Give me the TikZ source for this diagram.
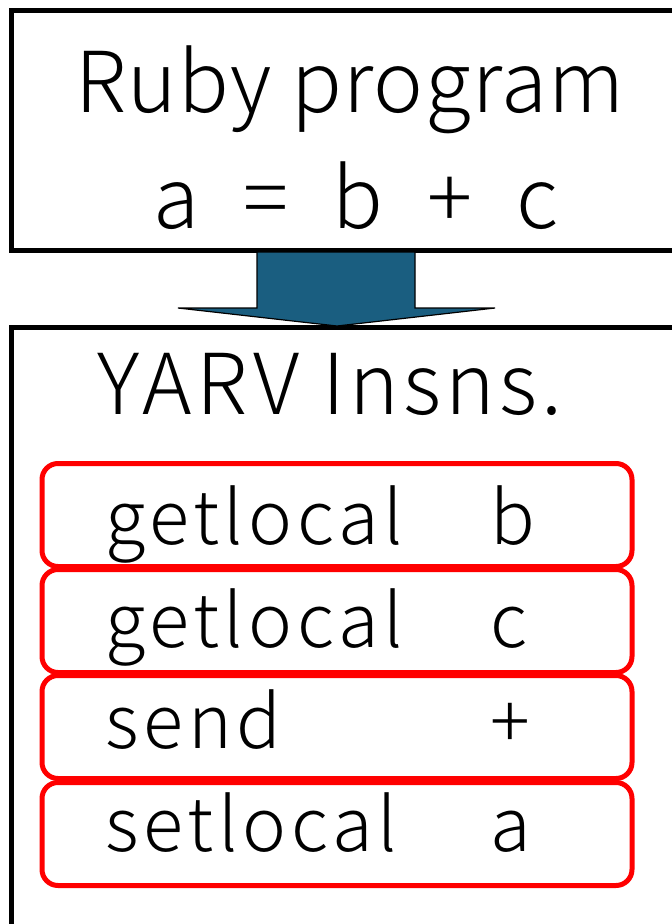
\documentclass[tikz,border=0pt]{standalone}
\usepackage{fontspec}
\setmainfont{Noto Sans CJK JP}[UprightFont=* Light]
\definecolor{arrowblue}{HTML}{1A5E80}
\begin{document}
\begin{tikzpicture}[x=1pt,y=-1pt,
  frame/.style={draw=black,line width=5pt,inner sep=0pt},
  insn/.style={draw=red,line width=5pt,rounded corners=16pt,minimum width=590pt,minimum height=103pt,inner sep=0pt},
  title/.style={font=\fontsize{84}{100}\selectfont,inner sep=0pt,anchor=base},
  code/.style={font=\fontsize{74}{90}\selectfont\addfontfeatures{LetterSpace=6.5},inner sep=0pt,anchor=base west},
  bigarrow/.style={fill=arrowblue,draw=black,line width=1.2pt}]
\useasboundingbox (0,0) rectangle (672,924);
\clip (0,0) rectangle (672,924);
% boxes
\node[frame,minimum width=679pt,minimum height=240pt] (prog) at (350.5,130) {};
\node[frame,minimum width=679pt,minimum height=620pt] (yarvbox) at (350.5,637) {};
% arrow
\draw[bigarrow] (257,252) -- (415,252) -- (415,308) -- (495,308) -- (337,326) -- (178,308) -- (257,308) -- cycle;
% titles
\node[title] (t1) at (350,112) {\addfontfeatures{LetterSpace=1.5}Ruby program};
\node[title] (t2) at (356,228) {\spaceskip=44pt a = b + c};
\node[title] (yarv) at (330,414) {\addfontfeatures{LetterSpace=5}YARV Insns.};
% instructions
\node[insn] (i1) at (337,515) {};
\node[insn] (i2) at (337,621) {};
\node[insn] (i3) at (337,727) {};
\node[insn] (i4) at (337,834) {};
\node[code] (o1) at (105,544) {getlocal};
\node[code] (a1) at (490,544) {b};
\node[code] (o2) at (105,647) {getlocal};
\node[code] (a2) at (490,647) {c};
\node[code] (o3) at (105,748) {send};
\node[code] (a3) at (490,748) {+};
\node[code] (o4) at (105,851) {setlocal};
\node[code] (a4) at (490,851) {a};
\end{tikzpicture}
\end{document}
